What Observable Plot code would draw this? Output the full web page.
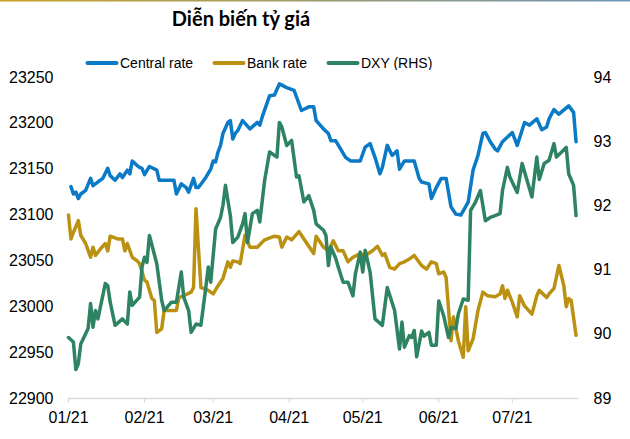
<!DOCTYPE html>
<html>
<head>
<meta charset="utf-8">
<script src="https://cdn.jsdelivr.net/npm/d3@7"></script>
<script src="https://cdn.jsdelivr.net/npm/@observablehq/plot@0.6"></script>
<style>
  body { margin: 0; background: #fff; }
  #wrap { width: 630px; height: 439px; overflow: hidden; background: #fff; }
  #header { display: block; }
  #chart svg { display: block; }
</style>
</head>
<body>
<div id="wrap">
  <svg id="header" width="630" height="70"></svg>
  <div id="chart"></div>
</div>
<script>
// ---- Data (day index: 0 = 1 Jan 2021) ----
const titleText = "Diễn biến tỷ giá";
const seriesNames = ["Central rate", "Bank rate", "DXY (RHS)"];
const seriesColors = ["#0a7ac6", "#bb9112", "#2e8462"];

const xTickLabels = ["01/21", "02/21", "03/21", "04/21", "05/21", "06/21", "07/21"];
const leftTicks = [22900, 22950, 23000, 23050, 23100, 23150, 23200, 23250];
const rightTicks = [89, 90, 91, 92, 93, 94];

const centralDays = [1,2,3,4,5,7,9,10,13,14,16,17,19,21,22,24,25,26,28,29,30,31,33,36,37,43,44,46,48,49,51,52,53,56,58,59,60,61,62,63,65,66,67,68,69,71,74,77,78,79,82,84,86,89,92,95,98,100,101,104,106,107,109,113,115,119,121,123,125,127,128,130,132,134,135,137,139,141,143,144,147,148,150,152,154,156,158,160,163,165,167,169,170,172,174,175,177,181,183,186,188,191,193,195,196,198,200,204,206,207];
const centralValues = [23131,23123,23125,23118,23123,23127,23140,23132,23138,23140,23151,23143,23138,23145,23141,23149,23145,23159,23154,23152,23151,23144,23153,23149,23138,23138,23123,23134,23130,23125,23140,23130,23130,23141,23150,23159,23158,23169,23176,23189,23201,23203,23183,23189,23192,23203,23194,23201,23198,23207,23230,23231,23243,23239,23236,23214,23218,23218,23203,23194,23189,23181,23181,23163,23159,23159,23174,23178,23163,23145,23152,23176,23165,23170,23150,23159,23159,23159,23140,23136,23134,23118,23130,23140,23140,23109,23101,23100,23114,23149,23165,23189,23190,23180,23172,23170,23180,23190,23176,23201,23198,23205,23193,23196,23205,23215,23210,23219,23212,23180];

const bankDays = [0,1,2,4,5,7,9,10,11,13,15,16,17,20,22,23,24,26,28,29,31,32,34,35,36,38,39,42,44,45,47,50,51,52,54,55,57,59,61,63,65,66,67,69,70,72,74,77,80,84,86,87,89,91,94,96,100,101,104,106,108,110,112,114,116,119,121,124,126,128,129,131,133,135,137,139,141,144,146,148,150,151,153,154,156,157,159,161,162,163,165,167,169,171,174,176,177,178,179,181,183,184,186,189,191,192,195,196,198,200,202,203,204,205,207];
const bankValues = [23100,23074,23081,23094,23078,23069,23054,23065,23056,23063,23069,23061,23077,23074,23074,23061,23069,23054,23050,23047,23029,23027,23009,23007,22972,22976,22996,22996,22996,23010,23012,23016,23021,23107,23021,23020,23018,23014,23023,23031,23049,23043,23050,23049,23047,23078,23065,23065,23073,23077,23076,23065,23076,23073,23082,23074,23058,23077,23065,23061,23072,23061,23061,23049,23054,23058,23056,23061,23066,23056,23058,23043,23041,23047,23049,23052,23056,23045,23041,23049,23047,23036,23038,23032,22963,22989,22963,22945,23000,22952,22965,22996,23016,23012,23011,23014,23023,23009,23018,23005,22989,23012,23001,22992,23012,23018,23010,23014,23020,23045,23023,23000,23009,23007,22969];

const dxyDays = [0,2,3,4,5,8,9,10,11,12,15,16,17,19,22,24,25,26,29,30,31,32,33,36,38,39,42,44,46,47,49,50,52,54,56,57,58,60,62,63,64,66,67,69,71,72,73,75,77,78,80,82,85,86,87,89,91,93,94,96,98,100,101,104,105,106,107,109,110,112,114,116,117,119,120,121,123,125,128,130,133,135,136,137,139,140,141,142,144,145,147,148,150,151,153,155,156,158,159,161,163,164,166,168,170,172,174,176,177,179,180,183,185,187,189,191,192,194,196,198,199,203,204,206,207];
const dxyValues = [89.95,89.88,89.45,89.54,89.85,90.09,90.48,90.11,90.37,90.24,90.79,90.76,90.50,90.14,90.24,90.16,90.66,90.45,90.58,91.05,91.20,91.12,91.54,91.10,90.53,90.37,90.50,90.50,90.97,90.58,90.37,90.03,90.16,90.14,90.73,91.05,90.81,91.64,91.82,92.01,92.32,91.85,91.43,91.51,91.72,91.88,91.43,91.88,91.93,91.75,92.40,92.84,92.76,93.30,93.23,92.94,93.02,92.45,92.47,92.06,92.16,91.93,91.72,91.62,91.54,91.07,91.36,91.18,91.05,90.81,90.81,90.60,90.94,91.28,90.97,91.31,90.97,90.24,90.14,90.73,90.37,89.77,90.19,89.80,89.98,89.95,90.06,89.65,90.05,89.97,90.03,89.83,89.83,90.52,90.29,89.95,90.11,90.09,90.32,90.55,90.53,91.93,92.06,92.24,91.77,91.82,91.85,91.88,92.24,92.60,92.45,92.21,92.66,92.40,92.14,92.76,92.41,92.66,92.71,92.97,92.76,92.91,92.50,92.32,91.85];

// ---- helpers ----
const dayToDate = d => new Date(Date.UTC(2021, 0, 1 + d));
// map DXY (right axis 89..94) onto the left scale (22900..23250)
const rhs = v => 22900 + (v - 89) * 70;

const central = centralDays.map((d, i) => ({date: dayToDate(d), value: centralValues[i]}));
const bank = bankDays.map((d, i) => ({date: dayToDate(d), value: bankValues[i]}));
const dxy = dxyDays.map((d, i) => ({date: dayToDate(d), value: rhs(dxyValues[i])}));

const monthTicks = xTickLabels.map((_, i) => new Date(Date.UTC(2021, i, 1)));
const rightTickPos = rightTicks.map(rhs);

// ---- header (title + legend) ----
const ns = "http://www.w3.org/2000/svg";
const header = document.getElementById("header");
function el(tag, attrs, text) {
  const e = document.createElementNS(ns, tag);
  for (const k in attrs) e.setAttribute(k, attrs[k]);
  if (text != null) e.textContent = text;
  header.appendChild(e);
  return e;
}
const defs = el("defs", {});
const grad = document.createElementNS(ns, "linearGradient");
grad.setAttribute("id", "tl");
[["0%", "#c9a227"], ["100%", "#6f96b8"]].forEach(([o, c]) => {
  const s = document.createElementNS(ns, "stop");
  s.setAttribute("offset", o); s.setAttribute("stop-color", c);
  grad.appendChild(s);
});
defs.appendChild(grad);
el("rect", {x: 0, y: 0, width: 630, height: 1.5, fill: "url(#tl)"});
el("text", {x: 241, y: 26, "text-anchor": "middle", "font-family": "Lato, 'Liberation Sans', sans-serif",
  "font-weight": "bold", "font-size": 20, fill: "#000"}, titleText);
const legendX = [86, 213, 327];
seriesNames.forEach((name, i) => {
  el("line", {x1: legendX[i] + 1.5, x2: legendX[i] + 30.5, y1: 63, y2: 63, stroke: seriesColors[i],
    "stroke-width": 4, "stroke-linecap": "round"});
  el("text", {x: legendX[i] + 34, y: 68, "font-family": "'Liberation Sans', Arial, sans-serif",
    "font-size": 14, fill: "#000"}, name);
});

// ---- chart ----
const chart = Plot.plot({
  width: 630,
  height: 369,
  marginLeft: 68,
  marginRight: 52,
  marginTop: 7,
  marginBottom: 41,
  x: {type: "utc", domain: [dayToDate(0), dayToDate(208)]},
  y: {domain: [22900, 23250]},
  style: {fontFamily: "'Liberation Sans', Arial, sans-serif", fontSize: "16px", color: "#000", background: "#fff", overflow: "visible"},
  marks: [
    Plot.ruleY([22900], {stroke: "#d9d9d9", strokeWidth: 1.5}),
    Plot.axisX({ticks: monthTicks, tickFormat: d => xTickLabels[d.getUTCMonth()], tickSize: 5, tickPadding: 8,
      stroke: "#d9d9d9", fill: "#000", label: null}),
    Plot.axisY({anchor: "left", ticks: leftTicks, tickFormat: d => String(d), tickSize: 0, tickPadding: 15, label: null}),
    Plot.axisY({anchor: "right", ticks: rightTickPos, tickFormat: d => String(rightTicks[rightTickPos.indexOf(d)]),
      tickSize: 0, tickPadding: 15, label: null}),
    Plot.lineY(central, {x: "date", y: "value", stroke: seriesColors[0], strokeWidth: 3.5, strokeLinejoin: "round", strokeLinecap: "round"}),
    Plot.lineY(bank, {x: "date", y: "value", stroke: seriesColors[1], strokeWidth: 3.5, strokeLinejoin: "round", strokeLinecap: "round"}),
    Plot.lineY(dxy, {x: "date", y: "value", stroke: seriesColors[2], strokeWidth: 3.5, strokeLinejoin: "round", strokeLinecap: "round"})
  ]
});
document.getElementById("chart").appendChild(chart);
</script>
</body>
</html>
